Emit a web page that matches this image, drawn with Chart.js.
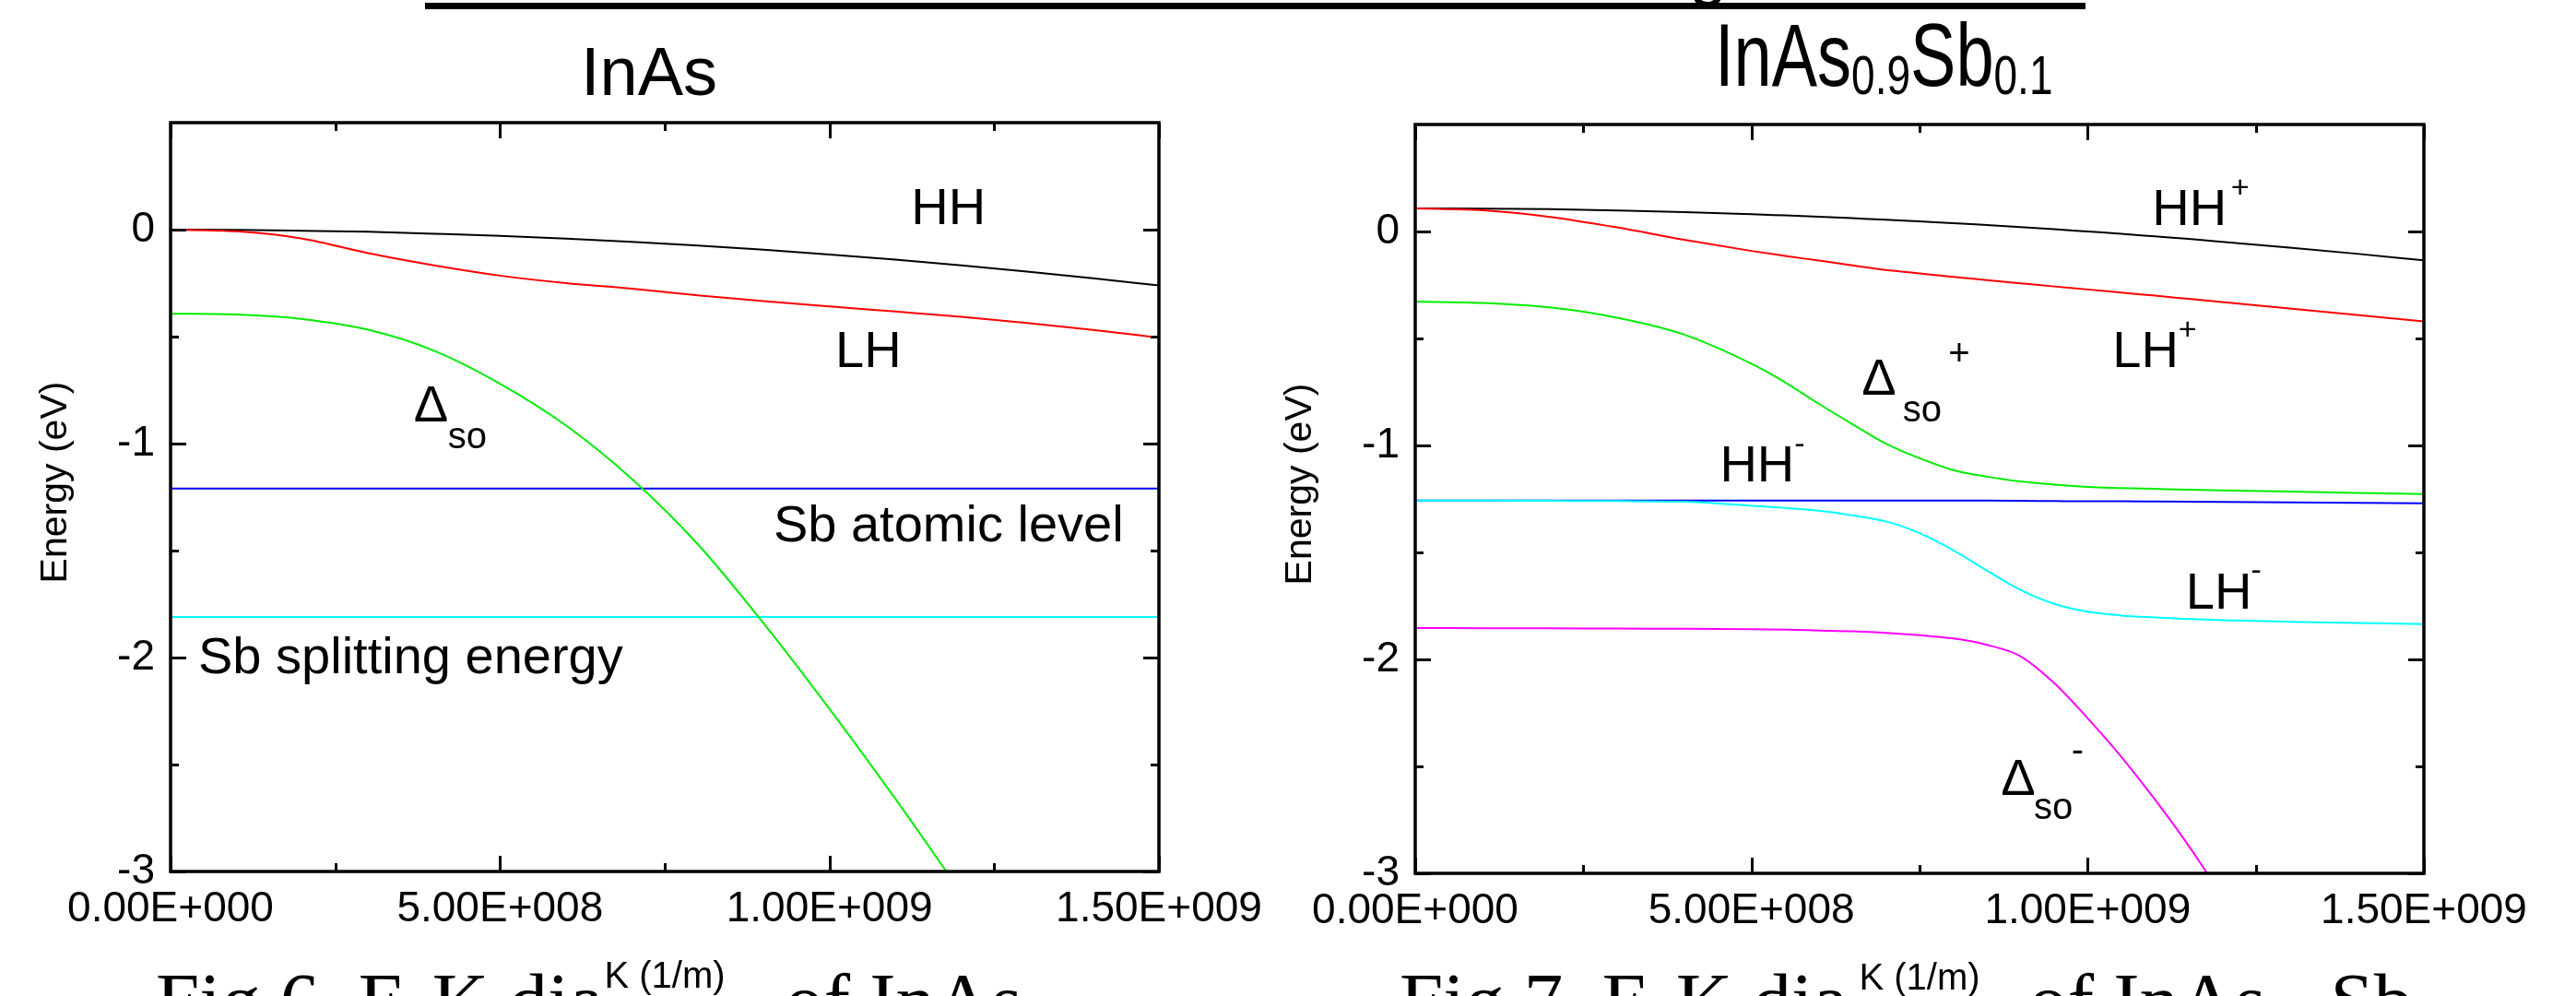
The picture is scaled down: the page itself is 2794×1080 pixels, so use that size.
<!DOCTYPE html>
<html><head><meta charset="utf-8">
<script src="https://cdn.jsdelivr.net/npm/chart.js@4.4.1/dist/chart.umd.min.js"></script>
<style>
html,body{margin:0;padding:0;background:#fff;width:2794px;height:1080px;overflow:hidden;}
canvas{position:absolute;top:0;}
#bg{left:0;z-index:0;}
#c1{left:0;z-index:1;}
#c2{left:1300px;z-index:1;}
</style></head>
<body>
<canvas id="bg" width="2794" height="1080"></canvas>
<canvas id="c1" width="1397" height="1080"></canvas>
<canvas id="c2" width="1494" height="1080"></canvas>
<script>
// ---------- data ----------
const kInAs = [0,1e8,2e8,3e8,4e8,5e8,6e8,7e8,8e8,9e8,1e9,1.1e9,1.2e9,1.3e9,1.4e9,1.5e9];
const hhInAs = [0,-0.001,-0.005,-0.010,-0.019,-0.029,-0.042,-0.057,-0.074,-0.094,-0.116,-0.140,-0.167,-0.196,-0.227,-0.261];
const lhInAs = [0,-0.008,-0.042,-0.110,-0.167,-0.215,-0.250,-0.276,-0.307,-0.334,-0.359,-0.383,-0.407,-0.436,-0.469,-0.505];
const soInAs = [-0.393,-0.397,-0.418,-0.468,-0.566,-0.720,-0.915,-1.165,-1.470,-1.840,-2.240,-2.660,-3.100,null,null,null];
const kFlat = [0,1.5e9];
const sbAtomic = [-1.21,-1.21];
const sbSplit = [-1.81,-1.81];

const kInAsSb = [0,1e8,2e8,3e8,4e8,5e8,5.5e8,6e8,6.5e8,7e8,7.5e8,8e8,8.5e8,9e8,9.5e8,1e9,1.05e9,1.1e9,1.15e9,1.2e9,1.3e9,1.4e9,1.5e9];
const hhPlus  = [0.108,0.107,0.104,0.098,0.091,0.081,0.075,0.069,0.062,0.055,0.047,0.039,0.030,0.021,0.011,0.000,-0.011,-0.023,-0.035,-0.048,-0.075,-0.104,-0.135];
const lhPlus  = [0.108,0.099,0.068,0.019,-0.039,-0.091,-0.114,-0.136,-0.158,-0.180,-0.196,-0.212,-0.227,-0.242,-0.257,-0.271,-0.286,-0.300,-0.315,-0.330,-0.360,-0.390,-0.420];
const soPlus  = [-0.328,-0.334,-0.355,-0.403,-0.482,-0.618,-0.705,-0.805,-0.900,-0.992,-1.060,-1.115,-1.146,-1.168,-1.183,-1.194,-1.199,-1.203,-1.207,-1.210,-1.216,-1.222,-1.227];
const hhMinus = [-1.258,-1.258,-1.258,-1.258,-1.258,-1.258,-1.258,-1.258,-1.258,-1.258,-1.258,-1.258,-1.258,-1.259,-1.260,-1.261,-1.261,-1.262,-1.263,-1.264,-1.266,-1.268,-1.270];
const lhMinus = [-1.258,-1.258,-1.259,-1.260,-1.263,-1.282,-1.292,-1.305,-1.327,-1.355,-1.410,-1.490,-1.585,-1.675,-1.740,-1.777,-1.795,-1.804,-1.811,-1.817,-1.824,-1.830,-1.835];
const soMinus = [-1.853,-1.854,-1.855,-1.856,-1.857,-1.859,-1.861,-1.865,-1.869,-1.876,-1.887,-1.902,-1.932,-1.985,-2.110,-2.275,-2.455,-2.655,-2.870,-3.106,null,null,null];

const xTickValues = [0,5e8,1e9,1.5e9];
const xTickLabels = ['0.00E+000','5.00E+008','1.00E+009','1.50E+009'];
const xMinorTicks = [2.5e8,7.5e8,1.25e9];
const yTickValues = [0,-1,-2,-3];
const yTickLabels = ['0','-1','-2','-3'];
const yMinorTicks = [-0.5,-1.5,-2.5];

// band labels, anchored in data coordinates
const labelsInAs = [
  {t:'HH', k:1.124e9, e:0.026, s:56},
  {t:'LH', k:1.009e9, e:-0.641, s:56},
  {t:'\u0394', k:0.369e9, e:-0.895, s:56},
  {t:'so', k:0.421e9, e:-1.020, s:40},
  {t:'Sb atomic level', k:0.915e9, e:-1.459, s:56},
  {t:'Sb splitting energy', k:0.042e9, e:-2.075, s:56}
];
const labelsInAsSb = [
  {t:'HH', k:1.096e9, e:0.029, s:56}, {t:'+', k:1.213e9, e:0.158, s:34},
  {t:'LH', k:1.037e9, e:-0.635, s:56}, {t:'+', k:1.135e9, e:-0.506, s:34},
  {t:'\u0394', k:0.664e9, e:-0.761, s:56}, {t:'so', k:0.725e9, e:-0.890, s:40}, {t:'+', k:0.793e9, e:-0.627, s:40},
  {t:'HH', k:0.453e9, e:-1.170, s:56}, {t:'-', k:0.564e9, e:-1.037, s:34},
  {t:'LH', k:1.146e9, e:-1.761, s:56}, {t:'-', k:1.243e9, e:-1.628, s:34},
  {t:'\u0394', k:0.871e9, e:-2.633, s:56}, {t:'so', k:0.920e9, e:-2.745, s:40}, {t:'-', k:0.976e9, e:-2.478, s:40}
];

// ---------- helpers ----------
const FONT = '"Liberation Sans", Arial, sans-serif';
const SERIF = '"Liberation Serif", "Times New Roman", serif';
function series(ks, es, color){
  return {data: ks.map((k,i)=>({x:k, y:es[i]})), borderColor:color, backgroundColor:color,
    borderWidth:2, pointRadius:0, showLine:true, fill:false, cubicInterpolationMode:'monotone', clip:0, spanGaps:false};
}

const framePlugin = {
  id:'frame',
  afterDatasetsDraw(chart){
    const {ctx, chartArea:a, scales:{x,y}} = chart;
    ctx.save();
    ctx.strokeStyle='#000'; ctx.lineCap='butt';
    ctx.lineWidth=3;
    ctx.beginPath();
    const L=17, S=9;
    const vt=(v,len)=>{const p=Math.round(x.getPixelForValue(v))+0.5;
      ctx.moveTo(p,a.bottom); ctx.lineTo(p,a.bottom-len); ctx.moveTo(p,a.top); ctx.lineTo(p,a.top+len);};
    const ht=(v,len)=>{const p=Math.round(y.getPixelForValue(v))+0.5;
      ctx.moveTo(a.left,p); ctx.lineTo(a.left+len,p); ctx.moveTo(a.right,p); ctx.lineTo(a.right-len,p);};
    xTickValues.forEach(v=>vt(v,L)); xMinorTicks.forEach(v=>vt(v,S));
    yTickValues.forEach(v=>ht(v,L)); yMinorTicks.forEach(v=>ht(v,S));
    ctx.stroke();
    ctx.lineWidth=3.5;
    ctx.strokeRect(a.left, a.top, a.right-a.left, a.bottom-a.top);
    ctx.restore();
  },
  afterDraw(chart, args, opts){
    const {ctx, chartArea:a, scales:{x,y}} = chart;
    ctx.save();
    ctx.fillStyle='#000';
    ctx.textAlign='left'; ctx.textBaseline='alphabetic';
    (opts.labels||[]).forEach(l=>{
      ctx.font = l.s+'px '+FONT;
      ctx.fillText(l.t, x.getPixelForValue(l.k), y.getPixelForValue(l.e));
    });
    // y axis title
    ctx.font='41px '+FONT;
    ctx.textAlign='center';
    ctx.save();
    ctx.translate(a.left-113, (a.top+a.bottom)/2-16);
    ctx.rotate(-Math.PI/2);
    ctx.fillText('Energy (eV)',0,0);
    ctx.restore();
    // x axis title on its own white text box
    ctx.font='40px '+FONT;
    const tx=(a.left+a.right)/2, ty=a.bottom+126;
    const w=ctx.measureText('K (1/m)').width;
    ctx.fillStyle='#fff';
    ctx.fillRect(tx-w/2-8, ty-36, w+8+60, 1080-(ty-36));
    ctx.fillStyle='#000';
    ctx.fillText('K (1/m)', tx, ty);
    ctx.restore();
  }
};

function makeChart(id, datasets, labels, pad, yWidth, xHeight){
  return new Chart(document.getElementById(id), {
    type:'scatter',
    data:{datasets},
    options:{
      responsive:false, animation:false, devicePixelRatio:1,
      layout:{padding:pad},
      plugins:{legend:{display:false}, tooltip:{enabled:false}, frame:{labels}},
      scales:{
        x:{type:'linear', min:0, max:1.5e9,
          grid:{display:false, drawTicks:false}, border:{display:false},
          afterBuildTicks:s=>{s.ticks=xTickValues.map(v=>({value:v}));},
          afterFit:s=>{s.height=xHeight;},
          ticks:{autoSkip:false, maxRotation:0, padding:14, color:'#000',
            font:{family:FONT, size:46},
            callback:v=>xTickLabels[xTickValues.indexOf(v)]}
        },
        y:{type:'linear', min:-3, max:0.5,
          grid:{display:false, drawTicks:false}, border:{display:false},
          afterBuildTicks:s=>{s.ticks=yTickValues.map(v=>({value:v}));},
          afterFit:s=>{s.width=yWidth;},
          ticks:{autoSkip:false, padding:17, color:'#000',
            font:{family:FONT, size:46},
            callback:v=>yTickLabels[yTickValues.indexOf(v)]}
        }
      }
    },
    plugins:[framePlugin]
  });
}

// ---------- page decorations (behind the charts) ----------
const bg = document.getElementById('bg').getContext('2d');
bg.fillStyle='#000';
bg.fillRect(461,3,1801,7);
bg.textBaseline='alphabetic'; bg.textAlign='left';
bg.font='74px '+FONT;
bg.fillText('InAs', 630, 103);
// right title (taller lettering) with subscripts
(function(){
  bg.save();
  bg.translate(0,93); bg.scale(1,1.3);
  let x=1860;
  bg.font='74px '+FONT; bg.fillText('InAs', x, 0); x+=bg.measureText('InAs').width;
  bg.font='46px '+FONT; bg.fillText('0.9', x, 7); x+=bg.measureText('0.9').width;
  bg.font='74px '+FONT; bg.fillText('Sb', x, 0); x+=bg.measureText('Sb').width;
  bg.font='46px '+FONT; bg.fillText('0.1', x, 7);
  bg.restore();
})();
// figure captions, cut by the page bottom
function caption(x, parts){
  parts.forEach(p=>{
    bg.font=p.s+'px '+SERIF;
    bg.fillText(p.t, x, 1114+(p.d||0));
    x+=bg.measureText(p.t).width;
  });
}
caption(169, [{t:'Fig.6. E-K diagram of InAs', s:85}]);
caption(1518, [{t:'Fig.7. E-K diagram of InAs', s:85},{t:'0.9', s:56, d:22},{t:'Sb', s:85},{t:'0.1', s:56, d:22}]);
bg.font='74px '+FONT;
bg.fillText('g', 1832, -8);

makeChart('c1', [
  series(kInAs, lhInAs, '#ff0000'),
  series(kInAs, hhInAs, '#000000'),
  series(kInAs, soInAs, '#00ee00'),
  series(kFlat, sbAtomic, '#0000ff'),
  series(kFlat, sbSplit, '#00ffff')
], labelsInAs, {left:0, right:140, top:133, bottom:0}, 185, 135);

makeChart('c2', [
  series(kInAsSb, lhPlus, '#ff0000'),
  series(kInAsSb, hhPlus, '#000000'),
  series(kInAsSb, soPlus, '#00ee00'),
  series(kInAsSb, lhMinus, '#00ffff'),
  series(kInAsSb, hhMinus, '#0000ff'),
  series(kInAsSb, soMinus, '#ff00ff')
], labelsInAsSb, {left:0, right:165, top:135, bottom:0}, 235, 133);
</script>
</body></html>
